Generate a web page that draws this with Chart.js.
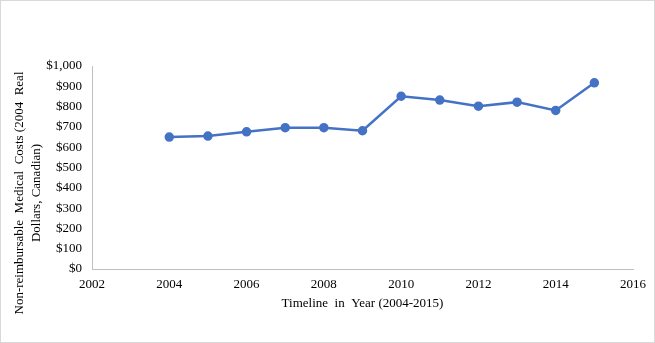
<!DOCTYPE html>
<html>
<head>
<meta charset="utf-8">
<script src="https://cdn.jsdelivr.net/npm/chart.js@4.4.1/dist/chart.umd.min.js"></script>
<style>
  html, body { margin: 0; padding: 0; background: #fff; }
  #wrap { position: relative; width: 653px; height: 341px; border: 1px solid #d9d9d9; }
  canvas { display: block; }
</style>
</head>
<body>
<div id="wrap"><canvas id="c" width="653" height="341"></canvas></div>
<script>
// Years and yearly non-reimbursable medical costs (2004 real CAD)
const years = [2004, 2005, 2006, 2007, 2008, 2009, 2010, 2011, 2012, 2013, 2014, 2015];
const costs = [650, 655, 676, 696, 696, 681, 851, 832, 802, 822, 781, 917];
const yTitleLines = ['Non-reimbursable  Medical  Costs (2004  Real', 'Dollars, Canadian)'];
const xTitle = 'Timeline  in  Year (2004-2015)';

const FONT = "'Liberation Serif', 'Times New Roman', serif";
const BLUE = '#4472C4';

// Two-line rotated y-axis title
const yTitlePlugin = {
  id: 'yTitle',
  afterDraw(chart) {
    const ctx = chart.ctx;
    ctx.save();
    ctx.font = '13px ' + FONT;
    ctx.fillStyle = '#000';
    ctx.textAlign = 'center';
    ctx.textBaseline = 'middle';
    const cy = 192;
    const xs = [19, 36];
    yTitleLines.forEach((t, i) => {
      ctx.save();
      ctx.translate(xs[i], cy);
      ctx.rotate(-Math.PI / 2);
      ctx.fillText(t, 0, 0);
      ctx.restore();
    });
    ctx.restore();
  }
};

new Chart(document.getElementById('c'), {
  type: 'line',
  data: {
    datasets: [{
      data: years.map((y, i) => ({ x: y, y: costs[i] })),
      borderColor: BLUE,
      backgroundColor: BLUE,
      borderWidth: 2.5,
      pointRadius: 3.5,
      pointHoverRadius: 3.5,
      pointBackgroundColor: BLUE,
      pointBorderColor: BLUE,
      tension: 0
    }]
  },
  options: {
    responsive: false,
    animation: false,
    layout: { padding: { left: 0, right: 21, top: 65, bottom: 0 } },
    plugins: { legend: { display: false }, tooltip: { enabled: false } },
    scales: {
      x: {
        type: 'linear',
        min: 2002,
        max: 2016,
        ticks: { stepSize: 2, color: '#000', font: { family: FONT, size: 13 }, padding: 8,
                 callback: v => String(v) },
        grid: { display: true, drawOnChartArea: false, drawTicks: false },
        border: { display: true, color: '#bfbfbf', width: 1 },
        title: { display: true, text: xTitle, color: '#000', font: { family: FONT, size: 13 },
                 padding: { top: 4, bottom: 31 } },
        afterFit: s => { s.height = 73; }
      },
      y: {
        min: 0,
        max: 1000,
        ticks: { stepSize: 100, color: '#000', font: { family: FONT, size: 13 }, padding: 10,
                 callback: v => '$' + v.toLocaleString('en-US') },
        grid: { display: true, drawOnChartArea: false, drawTicks: false },
        border: { display: true, color: '#bfbfbf', width: 1 },
        afterFit: s => { s.width = 91; }
      }
    }
  },
  plugins: [yTitlePlugin]
});
</script>
</body>
</html>
